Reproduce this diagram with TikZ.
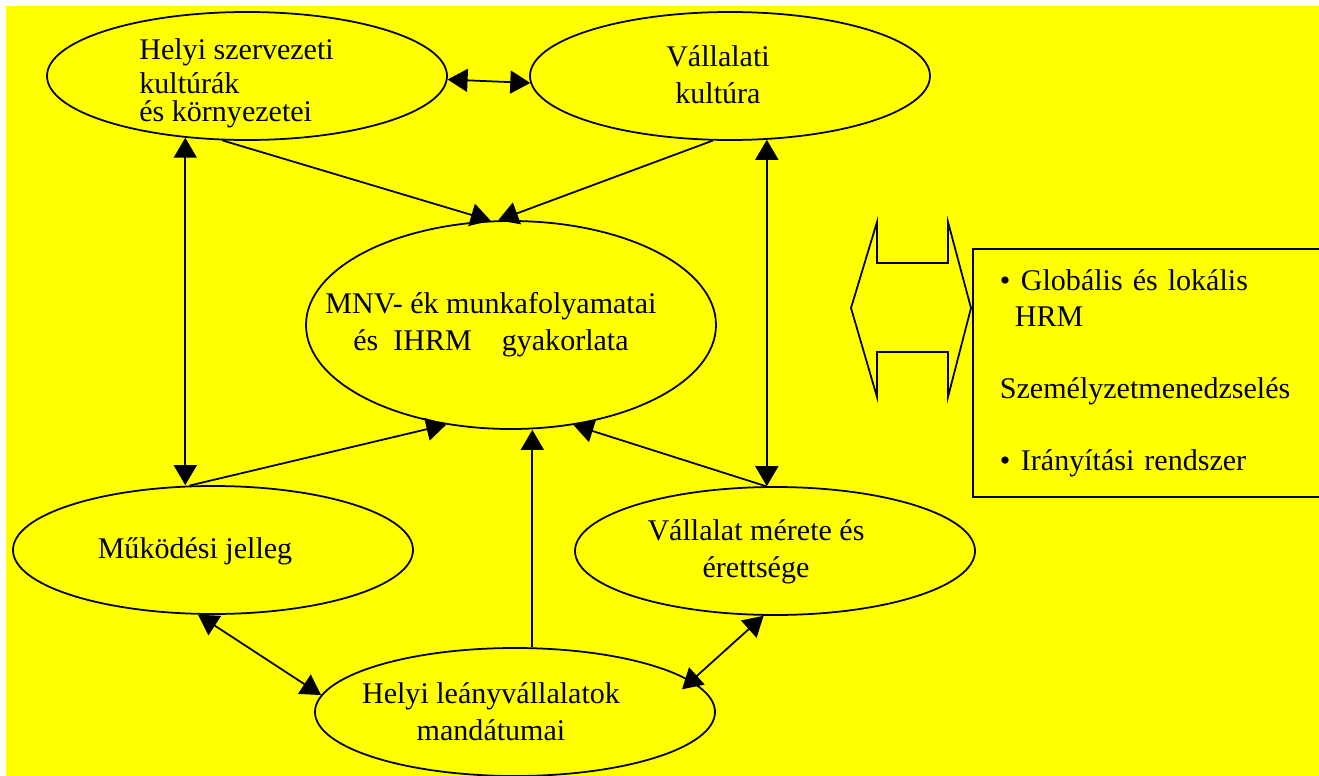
\documentclass[tikz,border=0pt]{standalone}
\usepackage{fontspec}
\setmainfont{Liberation Serif}
\usetikzlibrary{arrows.meta,shapes.geometric}
\definecolor{bgYellow}{RGB}{255,255,0}

\begin{document}
\begin{tikzpicture}[
    x=0.2mm, y=-0.2mm,
    every node/.style={font=\fontsize{17.1pt}{20.5pt}\selectfont},
    oval/.style={ellipse,draw,line width=1pt,minimum width=80mm,
                 minimum height=25.6mm,inner sep=0pt},
    txt/.style={inner sep=0pt,anchor=base},
    arr/.style={-{Triangle[length=4mm,width=4.6mm]},line width=1pt},
    darr/.style={{Triangle[length=4mm,width=4.6mm]}-{Triangle[length=4mm,width=4.6mm]},
                 line width=1pt}
  ]
  \useasboundingbox (0,0) rectangle (1319,776);
  \clip (0,0) rectangle (1319,776);
  \fill[white] (0,0) rectangle (1319,776);
  \fill[bgYellow] (6,6) rectangle (1319,776);
  % Top row (text nodes sit on the baseline of their last line)
  \node[oval] (hsz) at (247,76) {};
  \node[txt,anchor=base west,align=left] (hsz-t) at (139,121)
        {Helyi szervezeti\\[-0.4mm] kultúrák\\[-1.7mm] és környezetei};
  \node[oval] (vk) at (730,76) {};
  \node[txt,align=center] (vk-t) at (718,103) {Vállalati\\ kultúra};
  % Centre
  \node[oval,minimum width=82mm,minimum height=41.6mm] (mnv) at (511,325) {};
  \node[txt,align=center] (mnv-t) at (491,350)
        {MNV- ék munkafolyamatai\\ és\enspace IHRM\quad gyakorlata};
  % Bottom rows
  \node[oval] (mk) at (213,550) {};
  \node[txt] (mk-t) at (195,558) {Működési jelleg};
  \node[oval] (vm) at (775,551) {};
  \node[txt,align=center] (vm-t) at (756,577) {Vállalat mérete és\\ érettsége};
  \node[oval] (lm) at (515,712) {};
  \node[txt,align=center] (lm-t) at (491,740) {Helyi leányvállalatok\\ mandátumai};
  % Right side: box and double arrow
  \node[draw,line width=1pt,anchor=north west,minimum width=80mm,
        minimum height=49.6mm,text width=69.2mm,inner xsep=5.4mm,
        inner ysep=0pt,align=left] (hrm) at (972,248)
        {•\hspace{0.35em}Globális és lokális\\
         \hspace*{0.5em}HRM\\[7.2mm]
         Személyzetmenedzselés\\[7.2mm]
         •\hspace{0.35em}Irányítási rendszer};
  \draw[line width=1pt] (877,222) -- (877,263) -- (948,263) -- (948,222)
        -- (971,308) -- (948,397) -- (948,352) -- (877,352) -- (877,397)
        -- (851,308) -- cycle;
  % Arrows
  \draw[darr] (hsz.-1) -- (vk.182);
  \draw[arr] (hsz.-111) -- (mnv.101.5);
  \draw[arr] (vk.-105) -- (mnv.97);
  \draw[darr] (hsz.-135.6) -- (hsz.-135.6 |- mk.north);
  \draw[darr] (vk.-60.2) -- (vk.-60.2 |- vm.north);
  \draw[arr] (mk.110.7) -- (mnv.-123.8);
  \draw[arr] (lm.75) -- (lm.75 |- mnv.south);
  \draw[arr] (vm.98) -- (mnv.-58);
  \draw[darr] (mk.-103) -- (lm.175);
  \draw[darr,shorten >=-2.5mm] (vm.-100.6) -- (lm.10);
\end{tikzpicture}
\end{document}
